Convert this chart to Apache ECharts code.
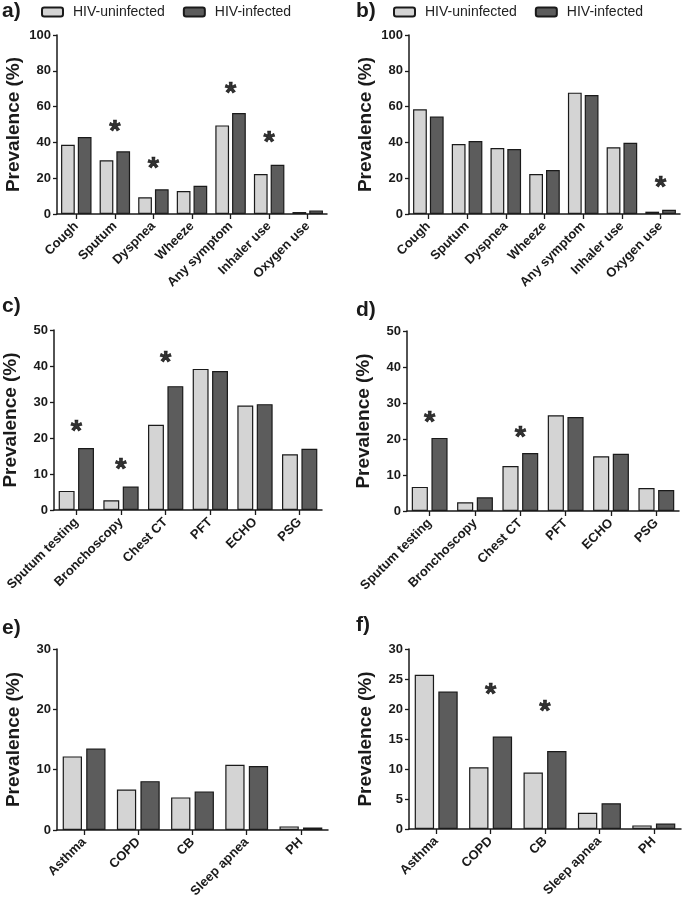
<!DOCTYPE html>
<html>
<head>
<meta charset="utf-8">
<script src="https://cdn.jsdelivr.net/npm/echarts@6/dist/echarts.min.js"></script>
<style>
html,body{margin:0;padding:0;background:#fff;}
#c{width:685px;height:904px;}
</style>
</head>
<body>
<div id="c"></div>
<script>
const seriesNames = ['HIV-uninfected', 'HIV-infected'];
const catsAB = ['Cough', 'Sputum', 'Dyspnea', 'Wheeze', 'Any symptom', 'Inhaler use', 'Oxygen use'];
const catsCD = ['Sputum testing', 'Bronchoscopy', 'Chest CT', 'PFT', 'ECHO', 'PSG'];
const catsEF = ['Asthma', 'COPD', 'CB', 'Sleep apnea', 'PH'];

const aUninf = [38.7, 30.0, 9.3, 12.8, 49.5, 22.3, 1.1];
const aInf   = [43.0, 35.0, 13.8, 15.8, 56.4, 27.5, 2.0];
const aStars = [null, 49.7, 29.2, null, 70.8, 43.6, null];

const bUninf = [58.5, 39.1, 36.9, 22.3, 67.8, 37.3, 1.3];
const bInf   = [54.4, 40.8, 36.3, 24.6, 66.5, 39.8, 2.4];
const bStars = [null, null, null, null, null, null, 18.4];

const cUninf = [5.3, 2.7, 23.7, 39.2, 29.0, 15.5];
const cInf   = [17.2, 6.5, 34.4, 38.6, 29.4, 17.0];
const cStars = [23.6, 13.0, 42.8, null, null, null];

const dUninf = [6.7, 2.4, 12.5, 26.6, 15.2, 6.4];
const dInf   = [20.3, 3.8, 16.1, 26.1, 15.9, 5.8];
const dStars = [26.3, null, 22.3, null, null, null];

const eUninf = [12.2, 6.7, 5.4, 10.8, 0.6];
const eInf   = [13.5, 8.1, 6.4, 10.6, 0.4];
const eStars = [null, null, null, null, null];

const fUninf = [25.7, 10.3, 9.4, 2.7, 0.6];
const fInf   = [22.9, 15.4, 13.0, 4.3, 0.9];
const fStars = [null, 23.5, 20.7, null, null];

const yMax = [100, 100, 50, 50, 30, 30];
const yStep = [20, 20, 10, 10, 10, 5];
const panelLabels = ['a)', 'b)', 'c)', 'd)', 'e)', 'f)'];

const panels = [
  {cats: catsAB, u: aUninf, i: aInf, s: aStars},
  {cats: catsAB, u: bUninf, i: bInf, s: bStars},
  {cats: catsCD, u: cUninf, i: cInf, s: cStars},
  {cats: catsCD, u: dUninf, i: dInf, s: dStars},
  {cats: catsEF, u: eUninf, i: eInf, s: eStars},
  {cats: catsEF, u: fUninf, i: fInf, s: fStars}
];

const gridPos = [
  {left: 57, top: 35, width: 270, height: 179},
  {left: 409, top: 35, width: 271, height: 179},
  {left: 50, top: 330, width: 272, height: 180},
  {left: 407, top: 331, width: 272, height: 180},
  {left: 57, top: 649, width: 271, height: 181},
  {left: 409, top: 649, width: 272, height: 180}
];
const labelPos = [
  {left: 2, top: 1}, {left: 356, top: 1},
  {left: 2, top: 296}, {left: 356, top: 300},
  {left: 2, top: 618}, {left: 356, top: 615}
];

const FONT = '"Liberation Sans", Arial, sans-serif';
const INK = '#1a1a1a';
const LIGHT = '#d4d4d4';
const DARK = '#5c5c5c';

const option = {
  backgroundColor: '#fff',
  animation: false,
  title: panelLabels.map((t, k) => ({
    text: t, left: labelPos[k].left, top: labelPos[k].top, padding: 0,
    textStyle: {fontFamily: FONT, fontWeight: 'bold', fontSize: 21, color: INK}
  })),
  legend: [
    {left: 41, top: 5},
    {left: 393, top: 5}
  ].map(p => ({
    left: p.left, top: p.top, data: seriesNames, itemWidth: 21, itemHeight: 9, itemGap: 18,
    padding: 0, selectedMode: false,
    textStyle: {fontFamily: FONT, fontSize: 14, color: '#222', padding: [0, 0, 0, 5]}
  })),
  grid: gridPos.map(g => Object.assign({containLabel: false}, g)),
  xAxis: panels.map((p, k) => ({
    type: 'category', gridIndex: k, data: p.cats,
    axisLine: {lineStyle: {color: INK, width: 1.5}},
    axisTick: {show: true, alignWithLabel: true, length: 5, lineStyle: {color: INK, width: 1.3}},
    axisLabel: {rotate: 45, interval: 0, margin: 10, fontFamily: FONT, fontWeight: 'bold', fontSize: 13, color: INK},
    splitLine: {show: false}
  })),
  yAxis: panels.map((p, k) => ({
    type: 'value', gridIndex: k, min: 0, max: yMax[k], interval: yStep[k],
    name: 'Prevalence (%)', nameLocation: 'middle', nameGap: 34,
    nameTextStyle: {fontFamily: FONT, fontWeight: 'bold', fontSize: 19, color: INK},
    axisLine: {show: true, lineStyle: {color: INK, width: 1.5}},
    axisTick: {show: true, length: 4, lineStyle: {color: INK, width: 1.3}},
    axisLabel: {margin: 6, fontFamily: FONT, fontWeight: 'bold', fontSize: 13, color: INK},
    splitLine: {show: false}
  })),
  series: []
};

panels.forEach((p, k) => {
  option.series.push({
    name: seriesNames[0], type: 'bar', xAxisIndex: k, yAxisIndex: k, data: p.u,
    barCategoryGap: '21%', barGap: '22%',
    itemStyle: {color: LIGHT, borderColor: INK, borderWidth: 1.2}
  });
  option.series.push({
    name: seriesNames[1], type: 'bar', xAxisIndex: k, yAxisIndex: k, data: p.i,
    barCategoryGap: '21%', barGap: '22%',
    itemStyle: {color: DARK, borderColor: INK, borderWidth: 1.2}
  });
  const starData = [];
  p.s.forEach((v, j) => { if (v !== null) starData.push([j, v]); });
  option.series.push({
    name: 'sig', type: 'scatter', xAxisIndex: k, yAxisIndex: k, data: starData,
    symbol: 'circle', symbolSize: 1, itemStyle: {color: 'rgba(0,0,0,0)'},
    label: {show: true, position: 'inside', formatter: '*', offset: [0, 7],
      fontFamily: FONT, fontWeight: 'bold', fontSize: 29, color: '#000',
      textBorderColor: '#000', textBorderWidth: 0.7},
    silent: true
  });
});

const chart = echarts.init(document.getElementById('c'), null, {renderer: 'canvas'});
chart.setOption(option);
</script>
</body>
</html>
